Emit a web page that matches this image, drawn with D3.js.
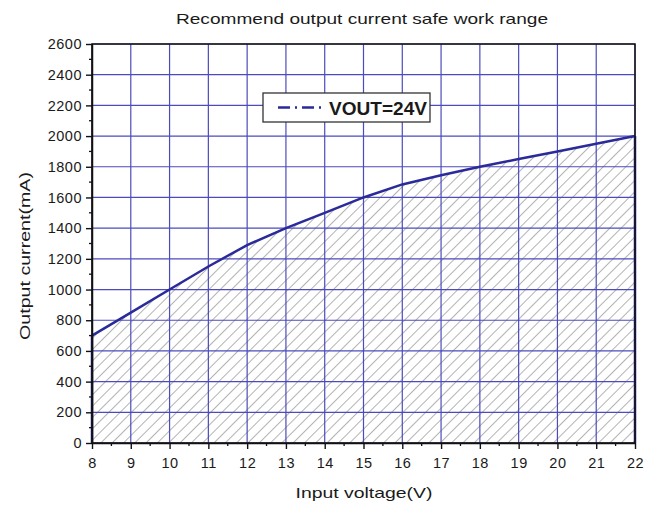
<!DOCTYPE html>
<html><head><meta charset="utf-8">
<script src="https://cdn.jsdelivr.net/npm/d3@7"></script>
<style>body{margin:0;background:#fff;} text{font-family:"Liberation Sans",Arial,sans-serif;}</style>
</head><body>
<svg id="c" width="660" height="508"></svg>
<script>
const voltage = [8,9,10,11,12,13,14,15,16,17,18,19,20,21,22];
const current = [700,850,1000,1150,1290,1400,1500,1600,1685,1745,1800,1850,1900,1950,2000];
const xTicks = [8,9,10,11,12,13,14,15,16,17,18,19,20,21,22];
const yTicks = [0,200,400,600,800,1000,1200,1400,1600,1800,2000,2200,2400,2600];
const seriesName = "VOUT=24V";

const svg = d3.select("#c");
const m = {l:92, r:635, t:44, b:443};
const x = d3.scaleLinear().domain([8,22]).range([m.l,m.r]);
const y = d3.scaleLinear().domain([0,2600]).range([m.b,m.t]);
const ink = "#1a1a1a";

const defs = svg.append("defs");
const pat = defs.append("pattern").attr("id","hatch").attr("patternUnits","userSpaceOnUse")
  .attr("width",8).attr("height",8).attr("patternTransform","rotate(45)");
pat.append("line").attr("x1",0).attr("y1",0).attr("x2",0).attr("y2",8)
  .attr("stroke","#8a8a8a").attr("stroke-width",1.3);

// title
svg.append("text").attr("x",362).attr("y",24).attr("text-anchor","middle")
  .attr("font-size",15).attr("fill",ink)
  .attr("textLength",372).attr("lengthAdjust","spacingAndGlyphs")
  .text("Recommend output current safe work range");

// hatched area
const area = d3.area().x((d,i)=>x(voltage[i])).y0(y(0)).y1(d=>y(d));
svg.append("path").datum(current).attr("d",area).attr("fill","url(#hatch)");

// grid
const g = svg.append("g");
g.selectAll(".vg").data(xTicks).join("line")
  .attr("x1",d=>x(d)).attr("x2",d=>x(d)).attr("y1",m.t).attr("y2",m.b)
  .attr("stroke","#4b4bbd").attr("stroke-width",1.2);
g.selectAll(".hg").data(yTicks).join("line")
  .attr("y1",d=>y(d)).attr("y2",d=>y(d)).attr("x1",m.l).attr("x2",m.r)
  .attr("stroke","#4b4bbd").attr("stroke-width",1.2);

// curve boundary
const line = d3.line().x((d,i)=>x(voltage[i])).y(d=>y(d));
svg.append("path").datum(current).attr("d",line).attr("fill","none")
  .attr("stroke","#2a2a9a").attr("stroke-width",2.5);
svg.append("line").attr("x1",x(8)).attr("x2",x(8)).attr("y1",y(0)).attr("y2",y(current[0]))
  .attr("stroke","#2a2a9a").attr("stroke-width",2.5);
svg.append("line").attr("x1",x(22)).attr("x2",x(22)).attr("y1",y(0)).attr("y2",y(current[current.length-1]))
  .attr("stroke","#2a2a9a").attr("stroke-width",2.5);

// frame
svg.append("rect").attr("x",m.l).attr("y",m.t).attr("width",m.r-m.l).attr("height",m.b-m.t)
  .attr("fill","none").attr("stroke","#111").attr("stroke-width",1.5);

// axes
const xAxis = d3.axisBottom(x).tickValues(xTicks).tickFormat(d3.format("d")).tickSize(6).tickSizeOuter(0).tickPadding(9);
const xa = svg.append("g").attr("transform",`translate(0,${m.b})`).call(xAxis);
const yAxis = d3.axisLeft(y).tickValues(yTicks).tickFormat(d3.format("d")).tickSize(6).tickSizeOuter(0).tickPadding(4);
const ya = svg.append("g").attr("transform",`translate(${m.l},0)`).call(yAxis);
[xa,ya].forEach(a=>{
  a.select(".domain").attr("stroke","#111").attr("stroke-width",1.5);
  a.selectAll(".tick line").attr("stroke","#111").attr("stroke-width",1.4);
  a.selectAll("text").attr("font-size",14.5).attr("fill",ink).attr("letter-spacing","0.5")
    .attr("font-family","'Liberation Sans',Arial,sans-serif");
});
// minor ticks
const xMinor = xTicks.slice(0,-1).map(d=>d+0.5);
svg.selectAll(".xm").data(xMinor).join("line")
  .attr("x1",d=>x(d)).attr("x2",d=>x(d)).attr("y1",m.b).attr("y2",m.b+3)
  .attr("stroke","#111").attr("stroke-width",1.3);
const yMinor = yTicks.slice(0,-1).map(d=>d+100);
svg.selectAll(".ym").data(yMinor).join("line")
  .attr("y1",d=>y(d)).attr("y2",d=>y(d)).attr("x1",m.l).attr("x2",m.l-3)
  .attr("stroke","#111").attr("stroke-width",1.3);

// axis labels
svg.append("text").attr("x",364).attr("y",498).attr("text-anchor","middle")
  .attr("font-size",15).attr("fill",ink)
  .attr("textLength",137).attr("lengthAdjust","spacingAndGlyphs").text("Input voltage(V)");
svg.append("text").attr("transform",`translate(30,256) rotate(-90)`)
  .attr("text-anchor","middle").attr("font-size",15).attr("fill",ink)
  .attr("textLength",168).attr("lengthAdjust","spacingAndGlyphs").text("Output current(mA)");

// legend
const lg = svg.append("g");
lg.append("rect").attr("x",263).attr("y",93).attr("width",167).attr("height",29)
  .attr("fill","#fff").attr("stroke","#333").attr("stroke-width",1.3);
lg.append("line").attr("x1",278).attr("x2",322).attr("y1",107.5).attr("y2",107.5)
  .attr("stroke","#2a2a9a").attr("stroke-width",2.5).attr("stroke-dasharray","12,5,2,5");
lg.append("text").attr("x",329).attr("y",115).attr("font-size",18).attr("fill",ink)
  .attr("font-weight","bold")
  .attr("textLength",98).attr("lengthAdjust","spacingAndGlyphs").text(seriesName);
</script>
</body></html>
